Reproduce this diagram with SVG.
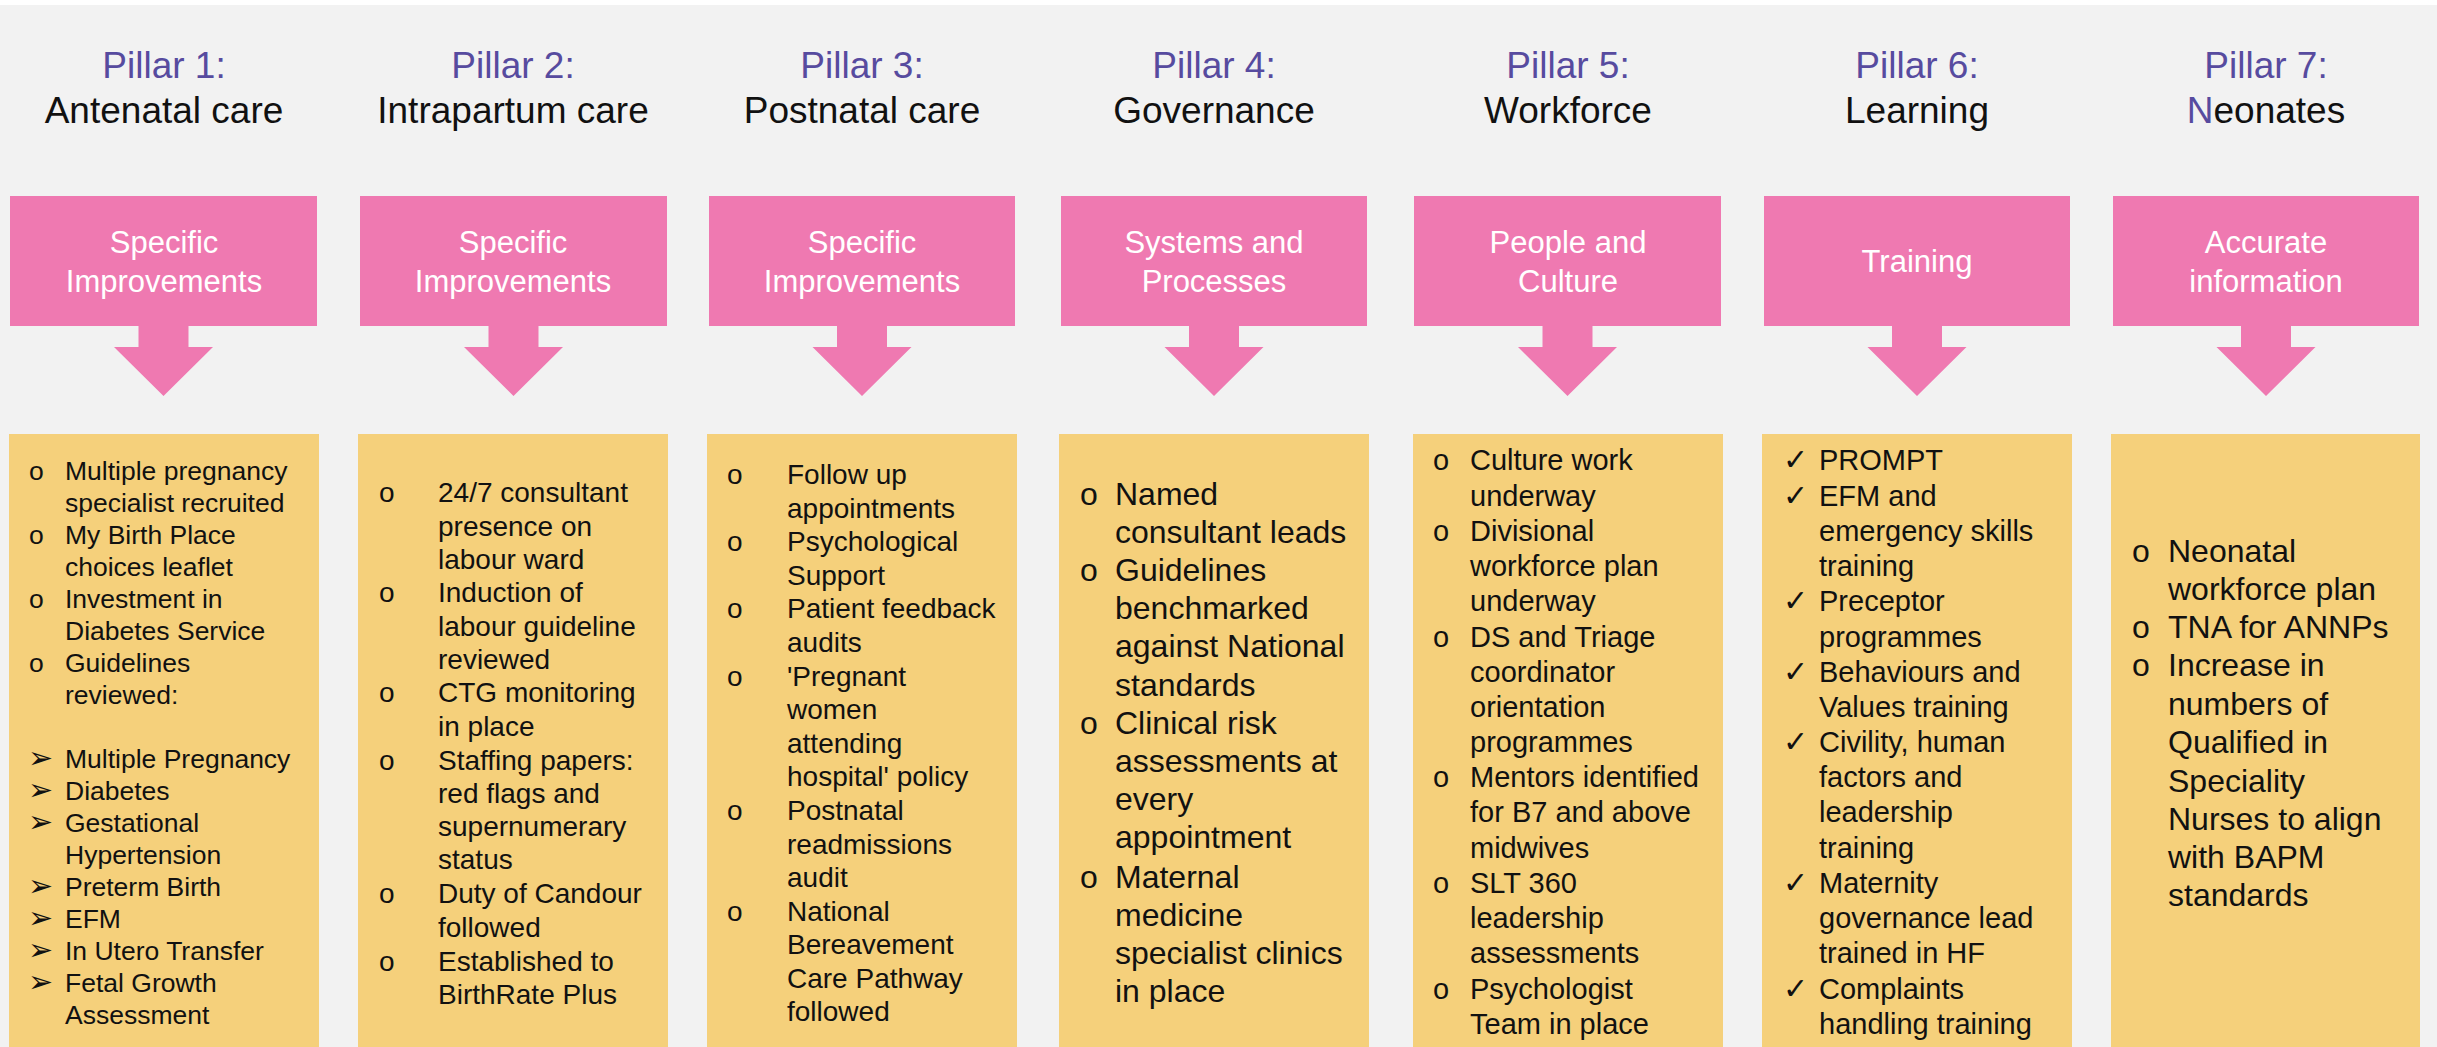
<svg xmlns="http://www.w3.org/2000/svg" width="2437" height="1047" viewBox="0 0 2437 1047">
<style>
text{font-family:"Liberation Sans",Arial,sans-serif;fill:#111}
.pl{font-size:37px;fill:#574B9F;text-anchor:middle}
.nm{font-size:37px;fill:#111;text-anchor:middle}
.hd{fill:#EF79B1}
.ht{font-size:31px;fill:#fff;text-anchor:middle}
.bx{fill:#F5D07B}
.s26{font-size:26.5px}
.s28{font-size:28px}
.s29{font-size:29px}
.s32{font-size:32px}
.arr{font-family:"DejaVu Sans",sans-serif;font-size:30px}
.chk{font-family:"DejaVu Sans",sans-serif;font-size:30px;font-weight:bold}
.pu{fill:#574B9F}
</style>
<rect x="0" y="0" width="2437" height="1047" fill="#FFFFFF"/>
<rect x="0" y="5" width="2437" height="1042" fill="#F2F2F2"/>

<g id="pillar1">
<text class="pl" x="164" y="78">Pillar 1:</text>
<text class="nm" x="164" y="123">Antenatal care</text>
<path class="hd" d="M10,196 H317 V326 H188.5 V347 H213 L163.5,396 L114,347 H138.5 V326 H10 Z"/>
<text class="ht" x="164" y="253">Specific</text>
<text class="ht" x="164" y="292">Improvements</text>
</g>
<g id="list1">
<rect class="bx" x="9" y="434" width="310" height="613"/>
<g class="s26">
<text x="29" y="480">o</text><text x="65" y="480">Multiple pregnancy</text>
<text x="65" y="512">specialist recruited</text>
<text x="29" y="544">o</text><text x="65" y="544">My Birth Place</text>
<text x="65" y="576">choices leaflet</text>
<text x="29" y="608">o</text><text x="65" y="608">Investment in</text>
<text x="65" y="640">Diabetes Service</text>
<text x="29" y="672">o</text><text x="65" y="672">Guidelines</text>
<text x="65" y="704">reviewed:</text>
<text class="arr" x="28" y="768">➢</text><text x="65" y="768">Multiple Pregnancy</text>
<text class="arr" x="28" y="800">➢</text><text x="65" y="800">Diabetes</text>
<text class="arr" x="28" y="832">➢</text><text x="65" y="832">Gestational</text>
<text x="65" y="864">Hypertension</text>
<text class="arr" x="28" y="896">➢</text><text x="65" y="896">Preterm Birth</text>
<text class="arr" x="28" y="928">➢</text><text x="65" y="928">EFM</text>
<text class="arr" x="28" y="960">➢</text><text x="65" y="960">In Utero Transfer</text>
<text class="arr" x="28" y="992">➢</text><text x="65" y="992">Fetal Growth</text>
<text x="65" y="1024">Assessment</text>
</g>
</g>

<g id="pillar2">
<text class="pl" x="513" y="78">Pillar 2:</text>
<text class="nm" x="513" y="123">Intrapartum care</text>
<path class="hd" d="M360,196 H667 V326 H538.5 V347 H563 L513.5,396 L464,347 H488.5 V326 H360 Z"/>
<text class="ht" x="513" y="253">Specific</text>
<text class="ht" x="513" y="292">Improvements</text>
</g>
<g id="list2">
<rect class="bx" x="358" y="434" width="310" height="613"/>
<g class="s28">
<text x="379" y="502">o</text><text x="438" y="502">24/7 consultant</text>
<text x="438" y="536">presence on</text>
<text x="438" y="569">labour ward</text>
<text x="379" y="602">o</text><text x="438" y="602">Induction of</text>
<text x="438" y="636">labour guideline</text>
<text x="438" y="669">reviewed</text>
<text x="379" y="702">o</text><text x="438" y="702">CTG monitoring</text>
<text x="438" y="736">in place</text>
<text x="379" y="770">o</text><text x="438" y="770">Staffing papers:</text>
<text x="438" y="803">red flags and</text>
<text x="438" y="836">supernumerary</text>
<text x="438" y="869">status</text>
<text x="379" y="903">o</text><text x="438" y="903">Duty of Candour</text>
<text x="438" y="937">followed</text>
<text x="379" y="971">o</text><text x="438" y="971">Established to</text>
<text x="438" y="1004">BirthRate Plus</text>
</g>
</g>

<g id="pillar3">
<text class="pl" x="862" y="78">Pillar 3:</text>
<text class="nm" x="862" y="123">Postnatal care</text>
<path class="hd" d="M709,196 H1015 V326 H887 V347 H911.5 L862,396 L812.5,347 H837 V326 H709 Z"/>
<text class="ht" x="862" y="253">Specific</text>
<text class="ht" x="862" y="292">Improvements</text>
</g>
<g id="list3">
<rect class="bx" x="707" y="434" width="310" height="613"/>
<g class="s28">
<text x="727" y="484">o</text><text x="787" y="484">Follow up</text>
<text x="787" y="518">appointments</text>
<text x="727" y="551">o</text><text x="787" y="551">Psychological</text>
<text x="787" y="585">Support</text>
<text x="727" y="618">o</text><text x="787" y="618">Patient feedback</text>
<text x="787" y="652">audits</text>
<text x="727" y="686">o</text><text x="787" y="686">'Pregnant</text>
<text x="787" y="719">women</text>
<text x="787" y="753">attending</text>
<text x="787" y="786">hospital' policy</text>
<text x="727" y="820">o</text><text x="787" y="820">Postnatal</text>
<text x="787" y="854">readmissions</text>
<text x="787" y="887">audit</text>
<text x="727" y="921">o</text><text x="787" y="921">National</text>
<text x="787" y="954">Bereavement</text>
<text x="787" y="988">Care Pathway</text>
<text x="787" y="1021">followed</text>
</g>
</g>

<g id="pillar4">
<text class="pl" x="1214" y="78">Pillar 4:</text>
<text class="nm" x="1214" y="123">Governance</text>
<path class="hd" d="M1061,196 H1367 V326 H1239 V347 H1263.5 L1214,396 L1164.5,347 H1189 V326 H1061 Z"/>
<text class="ht" x="1214" y="253">Systems and</text>
<text class="ht" x="1214" y="292">Processes</text>
</g>
<g id="list4">
<rect class="bx" x="1059" y="434" width="310" height="613"/>
<g class="s32">
<text x="1080" y="505">o</text><text x="1115" y="505">Named</text>
<text x="1115" y="543">consultant leads</text>
<text x="1080" y="581">o</text><text x="1115" y="581">Guidelines</text>
<text x="1115" y="619">benchmarked</text>
<text x="1115" y="657">against National</text>
<text x="1115" y="696">standards</text>
<text x="1080" y="734">o</text><text x="1115" y="734">Clinical risk</text>
<text x="1115" y="772">assessments at</text>
<text x="1115" y="810">every</text>
<text x="1115" y="848">appointment</text>
<text x="1080" y="888">o</text><text x="1115" y="888">Maternal</text>
<text x="1115" y="926">medicine</text>
<text x="1115" y="964">specialist clinics</text>
<text x="1115" y="1002">in place</text>
</g>
</g>

<g id="pillar5">
<text class="pl" x="1568" y="78">Pillar 5:</text>
<text class="nm" x="1568" y="123">Workforce</text>
<path class="hd" d="M1414,196 H1721 V326 H1592.5 V347 H1617 L1567.5,396 L1518,347 H1542.5 V326 H1414 Z"/>
<text class="ht" x="1568" y="253">People and</text>
<text class="ht" x="1568" y="292">Culture</text>
</g>
<g id="list5">
<rect class="bx" x="1413" y="434" width="310" height="613"/>
<g class="s29">
<text x="1433" y="470">o</text><text x="1470" y="470">Culture work</text>
<text x="1470" y="506">underway</text>
<text x="1433" y="541">o</text><text x="1470" y="541">Divisional</text>
<text x="1470" y="576">workforce plan</text>
<text x="1470" y="611">underway</text>
<text x="1433" y="647">o</text><text x="1470" y="647">DS and Triage</text>
<text x="1470" y="682">coordinator</text>
<text x="1470" y="717">orientation</text>
<text x="1470" y="752">programmes</text>
<text x="1433" y="787">o</text><text x="1470" y="787">Mentors identified</text>
<text x="1470" y="822">for B7 and above</text>
<text x="1470" y="858">midwives</text>
<text x="1433" y="893">o</text><text x="1470" y="893">SLT 360</text>
<text x="1470" y="928">leadership</text>
<text x="1470" y="963">assessments</text>
<text x="1433" y="999">o</text><text x="1470" y="999">Psychologist</text>
<text x="1470" y="1034">Team in place</text>
</g>
</g>

<g id="pillar6">
<text class="pl" x="1917" y="78">Pillar 6:</text>
<text class="nm" x="1917" y="123">Learning</text>
<path class="hd" d="M1764,196 H2070 V326 H1942 V347 H1966.5 L1917,396 L1867.5,347 H1892 V326 H1764 Z"/>
<text class="ht" x="1917" y="272">Training</text>
</g>
<g id="list6">
<rect class="bx" x="1762" y="434" width="310" height="613"/>
<g class="s29">
<text class="chk" x="1783" y="470">✓</text><text x="1819" y="470">PROMPT</text>
<text class="chk" x="1783" y="506">✓</text><text x="1819" y="506">EFM and</text>
<text x="1819" y="541">emergency skills</text>
<text x="1819" y="576">training</text>
<text class="chk" x="1783" y="611">✓</text><text x="1819" y="611">Preceptor</text>
<text x="1819" y="647">programmes</text>
<text class="chk" x="1783" y="682">✓</text><text x="1819" y="682">Behaviours and</text>
<text x="1819" y="717">Values training</text>
<text class="chk" x="1783" y="752">✓</text><text x="1819" y="752">Civility, human</text>
<text x="1819" y="787">factors and</text>
<text x="1819" y="822">leadership</text>
<text x="1819" y="858">training</text>
<text class="chk" x="1783" y="893">✓</text><text x="1819" y="893">Maternity</text>
<text x="1819" y="928">governance lead</text>
<text x="1819" y="963">trained in HF</text>
<text class="chk" x="1783" y="999">✓</text><text x="1819" y="999">Complaints</text>
<text x="1819" y="1034">handling training</text>
</g>
</g>

<g id="pillar7">
<text class="pl" x="2266" y="78">Pillar 7:</text>
<text class="nm" x="2266" y="123"><tspan class="pu">N</tspan>eonates</text>
<path class="hd" d="M2113,196 H2419 V326 H2291 V347 H2315.5 L2266,396 L2216.5,347 H2241 V326 H2113 Z"/>
<text class="ht" x="2266" y="253">Accurate</text>
<text class="ht" x="2266" y="292">information</text>
</g>
<g id="list7">
<rect class="bx" x="2111" y="434" width="309" height="613"/>
<g class="s32">
<text x="2132" y="562">o</text><text x="2168" y="562">Neonatal</text>
<text x="2168" y="600">workforce plan</text>
<text x="2132" y="638">o</text><text x="2168" y="638">TNA for ANNPs</text>
<text x="2132" y="676">o</text><text x="2168" y="676">Increase in</text>
<text x="2168" y="715">numbers of</text>
<text x="2168" y="753">Qualified in</text>
<text x="2168" y="792">Speciality</text>
<text x="2168" y="830">Nurses to align</text>
<text x="2168" y="868">with BAPM</text>
<text x="2168" y="906">standards</text>
</g>
</g>

<g id="connectors"></g>
</svg>
